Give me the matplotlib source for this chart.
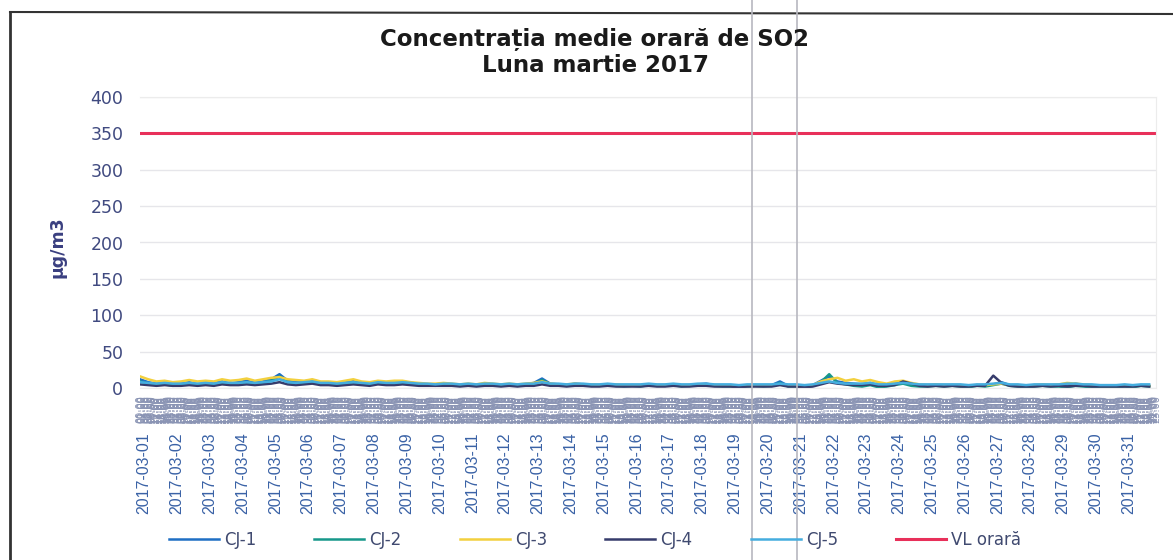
import matplotlib.pyplot as plt
from matplotlib.lines import Line2D

# values every 6 hours (4 per day), 31 days
CJ1 = [12, 8, 6, 7, 5, 6, 8, 5,
       6, 7, 9, 6, 8, 10, 7, 9,
       12, 19, 10, 8, 9, 11, 8, 7,
       6, 8, 10, 7, 6, 9, 7, 8,
       9, 7, 6, 5, 5, 6, 5, 4,
       5, 4, 6, 5, 4, 5, 4, 5,
       7, 13, 6, 5, 4, 6, 5, 4,
       4, 5, 4, 3, 4, 3, 5, 4,
       4, 5, 3, 4, 5, 6, 4, 3,
       3, 2, 3, 4, 3, 4, 9, 3,
       3, 2, 4, 10, 16, 9, 7, 6,
       5, 7, 4, 3, 6, 8, 5, 4,
       3, 4, 3, 4, 3, 2, 4, 3,
       5, 8, 4, 3, 2, 3, 4, 3,
       4, 3, 6, 4, 3, 2, 1, 2,
       3, 2, 4, 3]
CJ2 = [9, 6, 4, 5, 3, 4, 6, 4,
       5, 4, 7, 5, 6, 8, 5, 7,
       10, 16, 8, 6, 7, 9, 6, 5,
       4, 6, 8, 5, 5, 7, 5, 6,
       7, 5, 4, 4, 3, 5, 4, 3,
       4, 3, 5, 4, 3, 4, 3, 4,
       5, 11, 5, 4, 3, 5, 4, 3,
       3, 4, 3, 2, 3, 2, 4, 3,
       3, 4, 2, 3, 4, 5, 3, 2,
       2, 1, 2, 3, 2, 3, 7, 2,
       2, 1, 3, 8, 19, 7, 5, 3,
       2, 4, 1, 2, 4, 6, 3, 2,
       2, 3, 2, 3, 2, 1, 3, 2,
       4, 6, 3, 2, 1, 2, 3, 2,
       2, 1, 3, 2, 1, 0, 0, 1,
       2, 1, 3, 2]
CJ3 = [16, 12, 9, 10, 8, 9, 11, 9,
       10, 9, 12, 10, 11, 13, 10, 12,
       14, 15, 12, 11, 10, 12, 9, 9,
       8, 10, 12, 9, 8, 10, 9, 10,
       10, 8, 7, 6, 6, 7, 6, 5,
       6, 5, 7, 6, 5, 6, 5, 6,
       7, 9, 6, 5, 5, 6, 5, 5,
       4, 5, 5, 4, 4, 4, 5, 4,
       4, 5, 4, 4, 5, 5, 4, 4,
       3, 3, 3, 4, 3, 4, 5, 3,
       3, 3, 4, 9, 12, 14, 10, 12,
       9, 11, 8, 6, 9, 10, 7, 5,
       4, 5, 4, 4, 4, 3, 4, 4,
       5, 6, 4, 4, 3, 4, 5, 4,
       5, 7, 6, 5, 4, 3, 3, 3,
       4, 3, 4, 3]
CJ4 = [5, 4, 3, 4, 3, 3, 4, 3,
       4, 3, 5, 4, 4, 5, 4, 5,
       6, 8, 5, 4, 5, 6, 4, 4,
       3, 4, 5, 4, 3, 5, 4, 4,
       5, 4, 3, 3, 3, 3, 3, 2,
       3, 2, 3, 3, 2, 3, 2, 3,
       3, 5, 3, 3, 2, 3, 3, 2,
       2, 3, 2, 2, 2, 2, 3, 2,
       2, 3, 2, 2, 3, 3, 2, 2,
       2, 1, 2, 2, 2, 2, 4, 2,
       2, 1, 2, 5, 8, 6, 5, 4,
       4, 5, 3, 3, 4, 9, 6, 3,
       2, 3, 2, 3, 2, 2, 3, 3,
       17, 7, 3, 2, 2, 2, 3, 2,
       3, 2, 3, 3, 2, 2, 2, 2,
       2, 2, 3, 2]
CJ5 = [8, 7, 6, 7, 6, 6, 7, 6,
       7, 6, 8, 7, 7, 8, 7, 8,
       9, 12, 8, 7, 8, 9, 7, 7,
       6, 7, 8, 7, 6, 8, 7, 7,
       8, 7, 6, 6, 5, 6, 6, 5,
       6, 5, 6, 6, 5, 6, 5, 6,
       6, 8, 6, 6, 5, 6, 6, 5,
       5, 6, 5, 5, 5, 5, 6, 5,
       5, 6, 5, 5, 6, 6, 5, 5,
       5, 4, 5, 5, 5, 5, 6, 5,
       5, 4, 5, 7, 9, 7, 6, 6,
       6, 7, 5, 5, 6, 7, 6, 5,
       5, 5, 5, 5, 5, 4, 5, 5,
       6, 7, 5, 5, 4, 5, 5, 5,
       5, 6, 6, 5, 5, 4, 4, 4,
       5, 4, 5, 5]
VL_ORARA = 350

days = ['2017-03-%02d' % d for d in range(1, 32)]
hours = ['%02d:00' % h for h in range(24)]

series = [('CJ-1', CJ1, '#1f6fc4'), ('CJ-2', CJ2, '#17988a'),
          ('CJ-3', CJ3, '#f3d03e'), ('CJ-4', CJ4, '#363c6c'),
          ('CJ-5', CJ5, '#45addf')]

n_hours = len(days) * 24
step = n_hours // len(CJ1)
x = [i * step for i in range(len(CJ1))]

fig = plt.figure(figsize=(11.73, 5.6), dpi=100)
ax = fig.add_axes([140 / 1173, 1 - 388 / 560, 1016 / 1173, 291 / 560])

for name, vals, col in series:
    ax.plot(x, vals, color=col, lw=1.8, label=name)
ax.plot([0, n_hours - 1], [VL_ORARA, VL_ORARA], color='#e8305a', lw=2.2, label='VL orară')

ax.set_xlim(0, n_hours - 1)
ax.set_ylim(0, 400)
ax.set_yticks(range(0, 401, 50))
ax.grid(axis='y', color='#e6e6ea', lw=1)
ax.set_axisbelow(True)
for s in ax.spines.values():
    s.set_color('#ececec')
ax.spines['left'].set_visible(False)

ax.tick_params(axis='y', length=0, pad=12, labelsize=12.5, labelcolor='#404a80')

# days (major) and hours (minor) on the category axis
ax.set_xticks([i * 24 + 3 for i in range(len(days))], days)
ax.set_xticks(range(n_hours), hours * len(days), minor=True)
ax.tick_params(axis='x', which='major', length=0, pad=32, labelsize=11.5,
               labelrotation=90, labelcolor='#3a62a6')
ax.tick_params(axis='x', which='minor', length=0, pad=5, labelsize=7,
               labelrotation=90, labelcolor='#8a94b4')
for lab in ax.get_xticklabels():
    lab.set_fontfamily('Liberation Sans')

fig.text(595 / 1173, 1 - 39 / 560, 'Concentrația medie orară de SO2', ha='center', va='center',
         fontsize=16.5, fontweight='bold', color='#1a1a1a')
fig.text(596 / 1173, 1 - 65 / 560, 'Luna martie 2017', ha='center', va='center',
         fontsize=16.5, fontweight='bold', color='#1a1a1a')
fig.text(58 / 1173, 1 - 247 / 560, 'µg/m3', rotation=90, ha='center', va='center',
         fontsize=12.5, fontweight='bold', color='#3a3f80')

fig.legend(loc='center', bbox_to_anchor=(595 / 1173, 1 - 540 / 560), ncol=6, frameon=False,
           handlelength=3.0, columnspacing=3.5, handletextpad=0.3,
           prop={'size': 12}, labelcolor='#404a70')

# chart border (top/left) and scan lines
fig.add_artist(Line2D([10 / 1173, 10 / 1173], [0, 1 - 12 / 560], color='#333333', lw=2))
fig.add_artist(Line2D([10 / 1173, 1], [1 - 12 / 560, 1 - 14 / 560], color='#333333', lw=1.5))
for sx in (752, 797):
    fig.add_artist(Line2D([sx / 1173, sx / 1173], [0, 1], color='#b8b8c0', lw=1.2))

fig.savefig('out.png', dpi=100)
